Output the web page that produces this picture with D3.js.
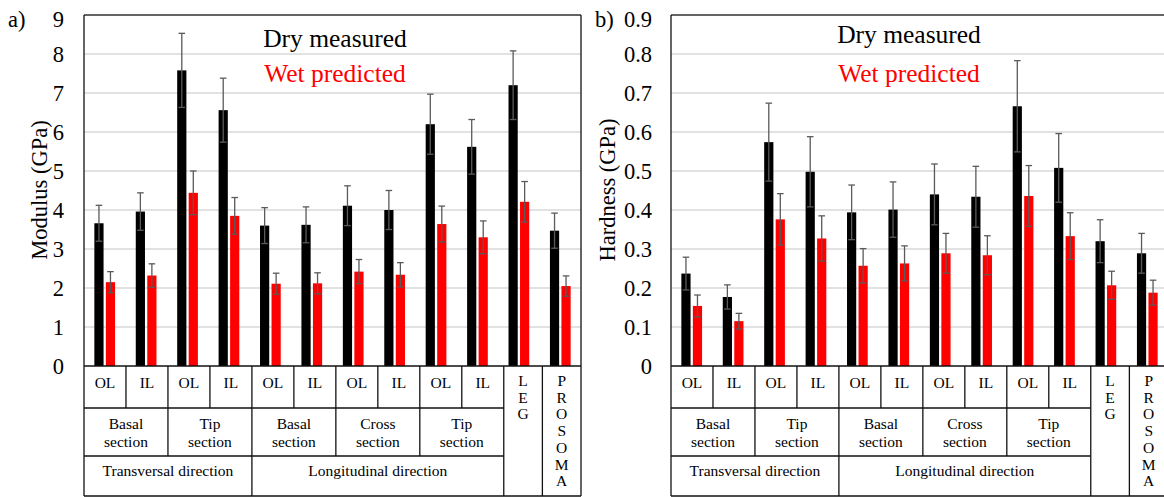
<!DOCTYPE html>
<html>
<head>
<meta charset="utf-8">
<script src="https://cdn.jsdelivr.net/npm/d3@7"></script>
<style>
  html, body { margin: 0; padding: 0; background: #fff; }
  svg { display: block; font-family: "Liberation Serif", "Times New Roman", serif; }
</style>
</head>
<body>
<svg id="chart" width="1164" height="497"></svg>
<script>
// ---------------- DATA ----------------
const categories = ["T-B-OL","T-B-IL","T-T-OL","T-T-IL","L-B-OL","L-B-IL","L-C-OL","L-C-IL","L-T-OL","L-T-IL","LEG","PROSOMA"];
const layerLabels = ["OL","IL","OL","IL","OL","IL","OL","IL","OL","IL"];
const sectionLabels = [["Basal","section"],["Tip","section"],["Basal","section"],["Cross","section"],["Tip","section"]];
const sectionSpans = [2, 2, 2, 2, 2];
const directionLabels = ["Transversal direction", "Longitudinal direction"];
const directionSpans = [4, 6];
const extraLabels = ["LEG", "PROSOMA"];

const modulusDry    = [3.66, 3.96, 7.58, 6.56, 3.60, 3.62, 4.11, 4.00, 6.20, 5.62, 7.20, 3.47];
const modulusDryErr = [0.46, 0.48, 0.95, 0.82, 0.46, 0.46, 0.51, 0.50, 0.77, 0.70, 0.88, 0.45];
const modulusWet    = [2.15, 2.32, 4.44, 3.85, 2.11, 2.12, 2.42, 2.34, 3.64, 3.30, 4.21, 2.05];
const modulusWetErr = [0.27, 0.30, 0.56, 0.47, 0.27, 0.27, 0.31, 0.31, 0.46, 0.42, 0.52, 0.26];

const hardnessDry    = [0.237, 0.177, 0.574, 0.498, 0.394, 0.401, 0.440, 0.434, 0.666, 0.508, 0.320, 0.289];
const hardnessDryErr = [0.042, 0.031, 0.100, 0.090, 0.070, 0.071, 0.078, 0.078, 0.117, 0.088, 0.055, 0.051];
const hardnessWet    = [0.154, 0.115, 0.376, 0.327, 0.257, 0.263, 0.289, 0.284, 0.436, 0.333, 0.207, 0.188];
const hardnessWetErr = [0.028, 0.020, 0.066, 0.058, 0.044, 0.045, 0.051, 0.050, 0.078, 0.060, 0.036, 0.032];

const modulusTicks  = [0, 1, 2, 3, 4, 5, 6, 7, 8, 9];
const hardnessTicks = [0, 0.1, 0.2, 0.3, 0.4, 0.5, 0.6, 0.7, 0.8, 0.9];
const seriesNames = ["Dry measured", "Wet predicted"];

// ---------------- LAYOUT ----------------
const svg = d3.select("#chart");
const plotTop = 15, base = 366, tableRows = [366, 408, 456, 496], plotW = 497;
const colWeights = categories.map((c, i) => i < 10 ? 1 : 0.92);
const COLORS = { dry: "#000000", wet: "#ff0000", err: "#5a5a5a", grid: "#d9d9d9", frame: "#3a3a3a" };

function drawPanel(cfg) {
  const g = svg.append("g");
  const x0 = cfg.x0, x1 = x0 + plotW;
  const x = d3.scaleBand().domain(categories).range([x0, x1]).paddingInner(0).paddingOuter(0);
  const sub = d3.scaleBand().domain(["dry", "wet"]).range([0, x.bandwidth()]).paddingInner(0.2).paddingOuter(0.9);
  const y = d3.scaleLinear().domain([0, cfg.ticks[cfg.ticks.length - 1]]).range([base, plotTop]);

  // gridlines
  g.append("g").selectAll("line").data(cfg.ticks.slice(1)).join("line")
    .attr("x1", x0).attr("x2", x1)
    .attr("y1", d => y(d)).attr("y2", d => y(d))
    .attr("stroke", COLORS.grid).attr("stroke-width", 1.3);

  // y axis labels
  const yAxis = d3.axisLeft(y).tickValues(cfg.ticks).tickFormat(cfg.fmt).tickSize(0).tickPadding(0);
  const ya = g.append("g").attr("transform", `translate(${x0 - cfg.tickGap},0)`).call(yAxis);
  ya.select(".domain").remove();
  ya.selectAll("text").attr("font-size", 22.5).attr("fill", "#000")
    .attr("font-family", "Liberation Serif, Times New Roman, serif")
    .attr("dy", "0.33em")
    .attr("y", function(d) { return Math.max(0, 19.5 - y(d)); });

  // bars
  const series = [
    { key: "dry", vals: cfg.dry, errs: cfg.dryErr, color: COLORS.dry },
    { key: "wet", vals: cfg.wet, errs: cfg.wetErr, color: COLORS.wet }
  ];
  series.forEach(s => {
    const sg = g.append("g");
    sg.selectAll("rect").data(categories).join("rect")
      .attr("x", (c) => x(c) + sub(s.key))
      .attr("width", sub.bandwidth())
      .attr("y", (c, i) => y(s.vals[i]))
      .attr("height", (c, i) => base - y(s.vals[i]))
      .attr("fill", s.color);
  });
  // error bars
  series.forEach(s => {
    const eg = g.append("g").attr("stroke", COLORS.err).attr("stroke-width", 1.3).attr("fill", "none");
    categories.forEach((c, i) => {
      const cx = x(c) + sub(s.key) + sub.bandwidth() / 2;
      const yt = y(s.vals[i] + s.errs[i]), yb = y(s.vals[i] - s.errs[i]);
      eg.append("line").attr("x1", cx).attr("x2", cx).attr("y1", yt).attr("y2", yb);
      eg.append("line").attr("x1", cx - 3.3).attr("x2", cx + 3.3).attr("y1", yt).attr("y2", yt);
      eg.append("line").attr("x1", cx - 3.3).attr("x2", cx + 3.3).attr("y1", yb).attr("y2", yb);
    });
  });

  // frame top
  g.append("line").attr("x1", x0).attr("x2", x1).attr("y1", plotTop).attr("y2", plotTop)
    .attr("stroke", COLORS.frame).attr("stroke-width", 1.5);

  // ---- category table ----
  const totalW = d3.sum(colWeights);
  const edges = [x0];
  colWeights.forEach(w => edges.push(edges[edges.length - 1] + w / totalW * plotW));
  const tg = g.append("g").attr("stroke", "#111").attr("stroke-width", 1.3);
  const L = (xa, ya, xb, yb) => tg.append("line").attr("x1", xa).attr("y1", ya).attr("x2", xb).attr("y2", yb);
  L(x0, tableRows[0], x1, tableRows[0]);
  L(x0, tableRows[1], edges[10], tableRows[1]);
  L(x0, tableRows[2], edges[10], tableRows[2]);
  L(x0, tableRows[3], x1, tableRows[3]);
  L(x0, plotTop, x0, tableRows[3]);
  L(x1, plotTop, x1, tableRows[3]);
  for (let i = 1; i < 10; i++) L(edges[i], tableRows[0], edges[i], tableRows[1]);
  let acc = 0;
  sectionSpans.forEach(sp => { acc += sp; if (acc < 10) L(edges[acc], tableRows[1], edges[acc], tableRows[2]); });
  acc = 0;
  directionSpans.forEach(sp => { acc += sp; if (acc < 10) L(edges[acc], tableRows[2], edges[acc], tableRows[3]); });
  L(edges[10], tableRows[0], edges[10], tableRows[3]);
  L(edges[11], tableRows[0], edges[11], tableRows[3]);

  const txt = g.append("g").attr("font-size", 15.5).attr("fill", "#000").attr("text-anchor", "middle");
  layerLabels.forEach((t, i) => {
    txt.append("text").attr("x", (edges[i] + edges[i + 1]) / 2).attr("y", 387.5).text(t);
  });
  acc = 0;
  sectionLabels.forEach((lines, k) => {
    const cx = (edges[acc] + edges[acc + sectionSpans[k]]) / 2;
    lines.forEach((ln, j) => txt.append("text").attr("x", cx).attr("y", 428.5 + j * 18.3).text(ln));
    acc += sectionSpans[k];
  });
  acc = 0;
  directionLabels.forEach((t, k) => {
    const cx = (edges[acc] + edges[acc + directionSpans[k]]) / 2;
    txt.append("text").attr("x", cx).attr("y", 476).text(t);
    acc += directionSpans[k];
  });
  extraLabels.forEach((t, k) => {
    const cx = (edges[10 + k] + edges[11 + k]) / 2;
    t.split("").forEach((ch, j) => txt.append("text").attr("x", cx).attr("y", 386 + j * 16.7).text(ch));
  });

  // series annotations
  g.append("text").attr("x", cfg.noteX).attr("y", cfg.dryY).attr("text-anchor", "middle")
    .attr("font-size", 25.5).attr("fill", COLORS.dry).text(seriesNames[0]);
  g.append("text").attr("x", cfg.noteX).attr("y", 81.5).attr("text-anchor", "middle")
    .attr("font-size", 25.5).attr("fill", COLORS.wet).text(seriesNames[1]);

  // y title
  g.append("text").attr("transform", `translate(${cfg.titleX},190) rotate(-90)`)
    .attr("text-anchor", "middle").attr("font-size", 22.5).attr("fill", "#000").text(cfg.title);
  // panel label
  g.append("text").attr("x", cfg.labelX).attr("y", 27).attr("font-size", 22.5).attr("fill", "#000").text(cfg.label);
}

drawPanel({
  x0: 84, ticks: modulusTicks, fmt: d3.format("d"),
  dry: modulusDry, dryErr: modulusDryErr, wet: modulusWet, wetErr: modulusWetErr,
  title: "Modulus (GPa)", titleX: 47, label: "a)", labelX: 8,
  noteX: 335, dryY: 46.5, tickGap: 20
});
drawPanel({
  x0: 671, ticks: hardnessTicks, fmt: d => d === 0 ? "0" : d3.format(".1f")(d),
  dry: hardnessDry, dryErr: hardnessDryErr, wet: hardnessWet, wetErr: hardnessWetErr,
  title: "Hardness (GPa)", titleX: 615, label: "b)", labelX: 595,
  noteX: 909, dryY: 42.5, tickGap: 19
});
</script>
</body>
</html>
